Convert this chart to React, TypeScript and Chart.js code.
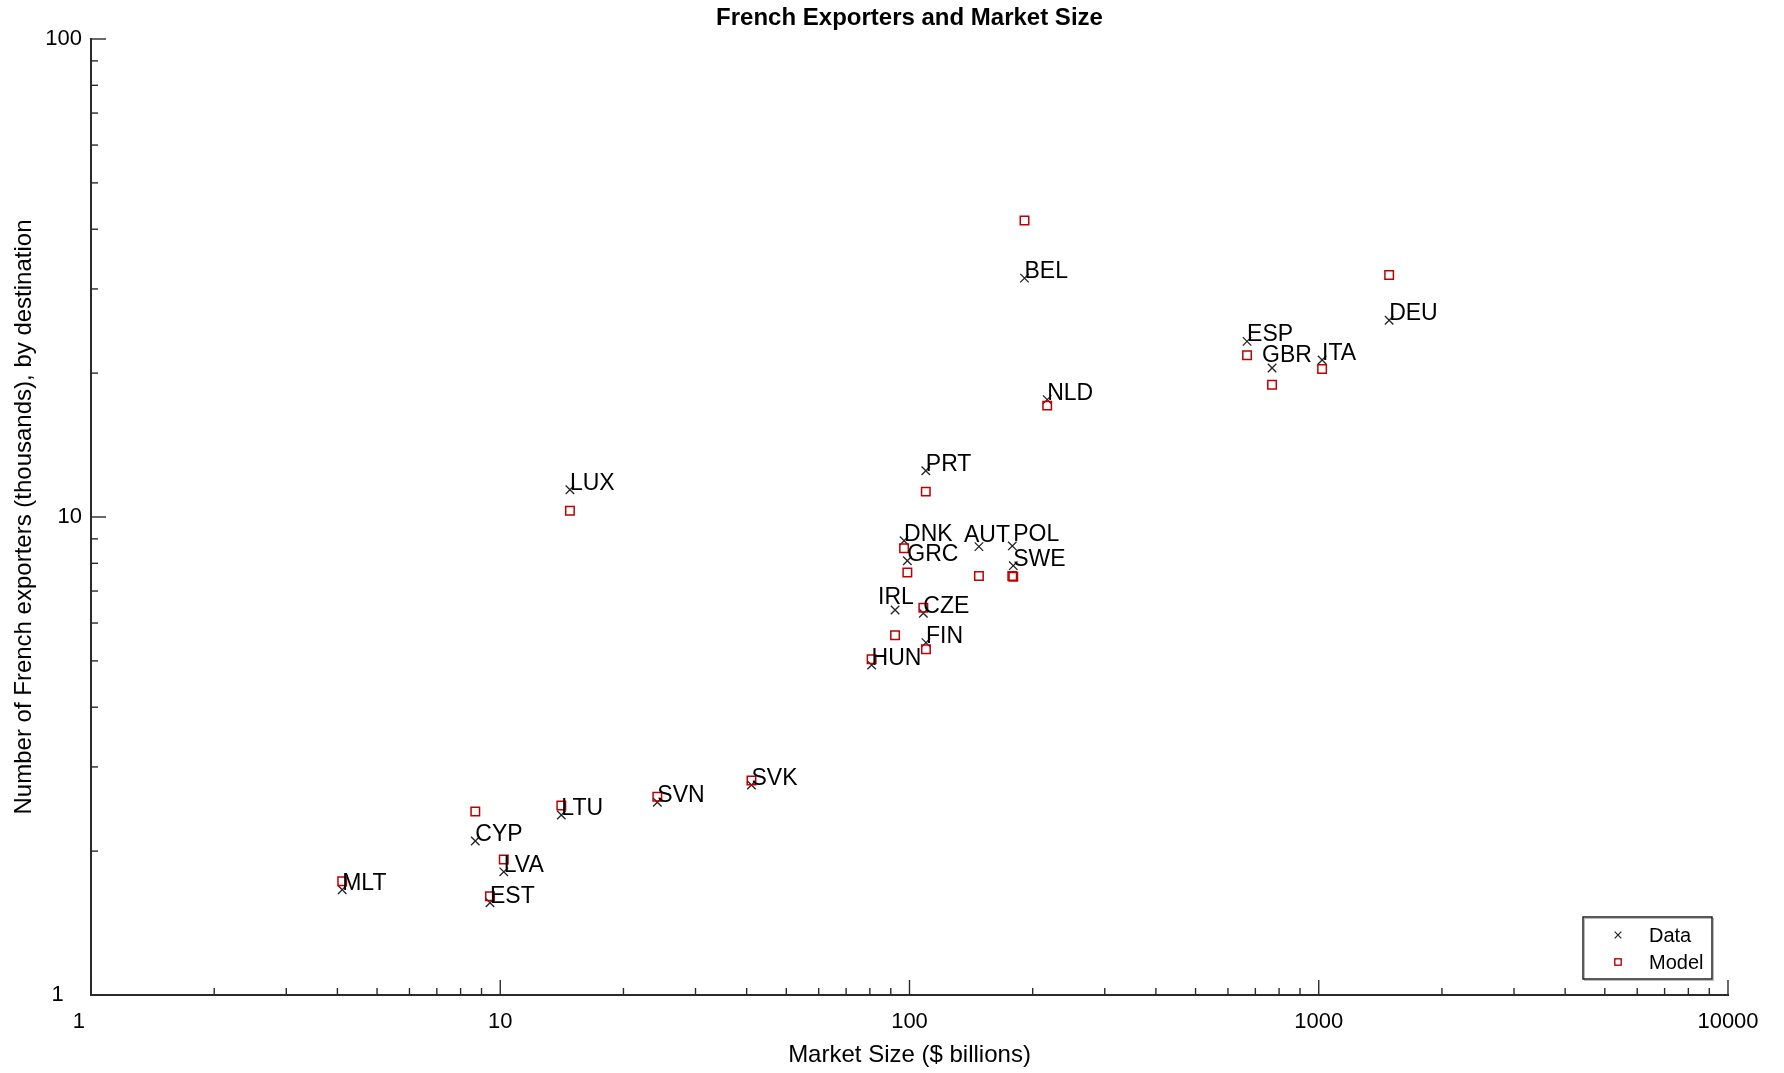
import React, { useEffect, useRef } from 'react';
import { Chart, registerables } from 'chart.js';

Chart.register(...registerables);

// ---- Data ----
const countries = [
  'BEL', 'DEU', 'ESP', 'GBR', 'ITA', 'NLD', 'PRT', 'LUX', 'DNK', 'GRC', 'AUT', 'POL',
  'SWE', 'IRL', 'CZE', 'FIN', 'HUN', 'SVK', 'SVN', 'LTU', 'CYP', 'LVA', 'EST', 'MLT',
];
// Market size ($ billions)
const marketSize = [
  191, 1486, 668, 769, 1019, 217, 109.6, 14.8, 97.0, 98.8, 147.8, 178.3,
  179.3, 92.2, 108.1, 109.7, 80.8, 41.1, 24.2, 14.1, 8.69, 10.2, 9.44, 4.11,
];
// Number of French exporters (thousands) - observed
const exportersData = [
  31.6, 25.8, 23.3, 20.5, 21.3, 17.6, 12.5, 11.4, 8.92, 8.10, 8.67, 8.70,
  7.91, 6.39, 6.29, 5.46, 4.90, 2.75, 2.53, 2.38, 2.10, 1.81, 1.56, 1.66,
];
// Number of French exporters (thousands) - model
const exportersModel = [
  41.7, 32.1, 21.8, 18.9, 20.4, 17.1, 11.3, 10.3, 8.60, 7.65, 7.53, 7.53,
  7.50, 5.66, 6.46, 5.29, 5.04, 2.81, 2.60, 2.49, 2.42, 1.92, 1.61, 1.73,
];
const xTickLabels = [1, 10, 100, 1000, 10000];
const yTickLabels = [1, 10, 100];
const minorMultipliers = [2, 3, 4, 5, 6, 7, 8, 9];

const titleText = 'French Exporters and Market Size';
const xTitle = 'Market Size ($ billions)';
const yTitle = 'Number of French exporters (thousands), by destination';
const legendLabels = ['Data', 'Model'];

// label nudges (style, pixels)
const labelNudge: Record<string, [number, number]> = {
  IRL: [-17, -6],
  AUT: [-15, -5],
  GBR: [-10, -6],
  POL: [1, -5],
};

const FONT = "'Liberation Sans', Arial, Helvetica, sans-serif";
const RED = '#c00000';
const DARK = '#222222';
const AXIS = '#2a2a2a';

const titleDraw = {
  id: 'titleDraw',
  afterDraw(chart: any) {
    const { ctx, chartArea } = chart;
    ctx.save();
    ctx.font = `bold 24px ${FONT}`;
    ctx.fillStyle = '#000';
    ctx.textAlign = 'center';
    ctx.textBaseline = 'middle';
    ctx.fillText(titleText, (chartArea.left + chartArea.right) / 2, 18);
    ctx.restore();
  },
};

const inwardTicks = {
  id: 'inwardTicks',
  afterDraw(chart: any) {
    const { ctx, chartArea, scales } = chart;
    const xs = scales.x;
    const ys = scales.y;
    ctx.save();
    ctx.strokeStyle = AXIS;
    ctx.lineWidth = 1.4;
    const majorLen = 15;
    const minorLen = 7;
    const drawX = (v: number, len: number) => {
      const p = xs.getPixelForValue(v);
      ctx.beginPath();
      ctx.moveTo(p, chartArea.bottom);
      ctx.lineTo(p, chartArea.bottom - len);
      ctx.stroke();
    };
    const drawY = (v: number, len: number) => {
      const p = ys.getPixelForValue(v);
      ctx.beginPath();
      ctx.moveTo(chartArea.left, p);
      ctx.lineTo(chartArea.left + len, p);
      ctx.stroke();
    };
    xTickLabels.forEach((d, i) => {
      drawX(d, majorLen);
      if (i < xTickLabels.length - 1) minorMultipliers.forEach((m) => drawX(d * m, minorLen));
    });
    yTickLabels.forEach((d, i) => {
      drawY(d, majorLen);
      if (i < yTickLabels.length - 1) minorMultipliers.forEach((m) => drawY(d * m, minorLen));
    });
    ctx.restore();
  },
};

const pointLabels = {
  id: 'pointLabels',
  afterDatasetsDraw(chart: any) {
    const { ctx, scales } = chart;
    ctx.save();
    ctx.font = `23px ${FONT}`;
    ctx.fillStyle = '#000';
    ctx.textAlign = 'left';
    ctx.textBaseline = 'alphabetic';
    countries.forEach((c, i) => {
      const px = scales.x.getPixelForValue(marketSize[i]);
      const py = scales.y.getPixelForValue(exportersData[i]);
      const n = labelNudge[c] || [0, 0];
      ctx.fillText(c, px + n[0], py + n[1]);
    });
    ctx.restore();
  },
};

const boxLegend = {
  id: 'boxLegend',
  afterDraw(chart: any) {
    const { ctx, chartArea } = chart;
    const w = 129;
    const h = 62;
    const x0 = chartArea.right - 16 - w;
    const y0 = chartArea.bottom - 16 - h;
    ctx.save();
    ctx.fillStyle = '#fff';
    ctx.fillRect(x0, y0, w, h);
    ctx.strokeStyle = '#bbb';
    ctx.lineWidth = 1;
    ctx.strokeRect(x0 + 1.5, y0 + 1.5, w, h);
    ctx.strokeStyle = DARK;
    ctx.lineWidth = 1.5;
    ctx.strokeRect(x0, y0, w, h);
    const mx = x0 + 35;
    const my1 = y0 + 18;
    const my2 = y0 + 45;
    ctx.strokeStyle = DARK;
    ctx.lineWidth = 1.2;
    ctx.beginPath();
    ctx.moveTo(mx - 3.3, my1 - 3.3);
    ctx.lineTo(mx + 3.3, my1 + 3.3);
    ctx.moveTo(mx + 3.3, my1 - 3.3);
    ctx.lineTo(mx - 3.3, my1 + 3.3);
    ctx.stroke();
    ctx.strokeStyle = RED;
    ctx.lineWidth = 1.4;
    ctx.strokeRect(mx - 3.2, my2 - 3.2, 6.4, 6.4);
    ctx.fillStyle = '#000';
    ctx.font = `20px ${FONT}`;
    ctx.textAlign = 'left';
    ctx.textBaseline = 'middle';
    ctx.fillText(legendLabels[0], x0 + 66, my1 + 1);
    ctx.fillText(legendLabels[1], x0 + 66, my2 + 1);
    ctx.restore();
  },
};

export default function App() {
  const canvasRef = useRef<HTMLCanvasElement | null>(null);

  useEffect(() => {
    const canvas = canvasRef.current;
    if (!canvas) return;
    Chart.defaults.font.family = FONT;
    const chart = new Chart(canvas, {
      type: 'scatter',
      data: {
        datasets: [
          {
            label: legendLabels[0],
            data: marketSize.map((x, i) => ({ x, y: exportersData[i] })),
            pointStyle: 'crossRot',
            pointRadius: 6,
            pointHoverRadius: 6,
            borderColor: DARK,
            backgroundColor: 'transparent',
            pointBorderWidth: 1.3,
            showLine: false,
            order: 2,
          },
          {
            label: legendLabels[1],
            data: marketSize.map((x, i) => ({ x, y: exportersModel[i] })),
            pointStyle: 'rect',
            pointRadius: 6,
            pointHoverRadius: 6,
            borderColor: RED,
            backgroundColor: 'transparent',
            pointBorderWidth: 1.5,
            showLine: false,
            order: 1,
          },
        ],
      },
      options: {
        responsive: false,
        animation: false,
        devicePixelRatio: 1,
        layout: { padding: { left: 0, right: 56, top: 39, bottom: 0 } },
        plugins: {
          legend: { display: false },
          tooltip: { enabled: false },
          title: { display: false },
        },
        scales: {
          x: {
            type: 'logarithmic',
            min: 1,
            max: 10000,
            grid: { display: false, drawTicks: false },
            border: { display: true, color: AXIS, width: 2 },
            ticks: {
              color: '#000',
              font: { size: 22, family: FONT },
              padding: 14,
              maxRotation: 0,
              autoSkip: false,
              callback: (v: any) => {
                const n = Number(v);
                if (!xTickLabels.includes(n)) return '';
                return n === 1 ? '1    ' : String(v);
              },
            },
            title: {
              display: true,
              text: xTitle,
              color: '#000',
              font: { size: 24, family: FONT },
              padding: { top: 0, bottom: 3 },
            },
            afterFit: (scale: any) => {
              scale.height = 78;
            },
          },
          y: {
            type: 'logarithmic',
            min: 1,
            max: 100,
            grid: { display: false, drawTicks: false },
            border: { display: true, color: AXIS, width: 2 },
            ticks: {
              color: '#000',
              font: { size: 22, family: FONT },
              padding: 9,
              autoSkip: false,
              callback: (v: any) => {
                const n = Number(v);
                if (!yTickLabels.includes(n)) return '';
                return n === 1 ? '1   ' : String(v);
              },
            },
            title: {
              display: true,
              text: yTitle,
              color: '#000',
              font: { size: 24, family: FONT },
              padding: { top: 10, bottom: 0 },
            },
            afterFit: (scale: any) => {
              scale.width = 91;
            },
          },
        },
      } as any,
      plugins: [inwardTicks, pointLabels, boxLegend, titleDraw],
    });
    return () => chart.destroy();
  }, []);

  return (
    <div style={{ position: 'fixed', left: 0, top: 0, width: 1784, height: 1073, background: '#fff' }}>
      <canvas ref={canvasRef} width={1784} height={1073} style={{ display: 'block' }} />
    </div>
  );
}
